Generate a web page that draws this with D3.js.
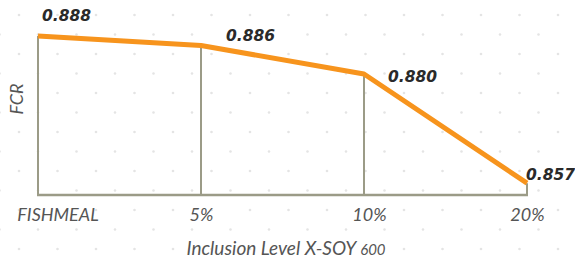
<!DOCTYPE html>
<html>
<head>
<meta charset="utf-8">
<script src="https://cdn.jsdelivr.net/npm/d3@7"></script>
<style>
  body { margin: 0; background: #fff; }
  svg { display: block; }
</style>
</head>
<body>
<div id="canvas"></div>
<script>
const categories = ["FISHMEAL", "5%", "10%", "20%"];
const fcr = [0.888, 0.886, 0.880, 0.857];
const valueLabels = ["0.888", "0.886", "0.880", "0.857"];
const xTitle = "Inclusion Level X-SOY";
const xTitleSuffix = "600";
const yTitle = "FCR";

// label nudges (pixels) relative to each point
const labelOffsets = [[4, -15], [25, -4], [24, 8], [-1, -3]];

const width = 575;
const height = 264;
const margin = {top: 36, left: 38, bottom: 69, right: 48};

const svg = d3.select("#canvas").append("svg")
    .attr("width", width)
    .attr("height", height);

// faint staggered dot background
const dots = svg.append("g");
for (let r = 0; r * 19.5 < height + 20; r++) {
  const off = (r % 2) ? 19 : 0;
  for (let c = -1; c * 38.5 < width + 40; c++) {
    dots.append("circle")
        .attr("cx", c * 38.5 + off + 19)
        .attr("cy", r * 19.5 + 15)
        .attr("r", 1.3)
        .attr("fill", "#e4e4e4");
  }
}

const x = d3.scalePoint().domain(categories).range([margin.left, width - margin.right]);
const y = d3.scaleLinear().domain([0.8545, 0.888]).range([height - margin.bottom, margin.top]);

const data = categories.map((c, i) => ({cat: c, v: fcr[i], label: valueLabels[i], off: labelOffsets[i]}));

const g = svg.append("g");

// drop lines
g.selectAll("line.drop").data(data).enter().append("line")
    .attr("class", "drop")
    .attr("x1", d => x(d.cat)).attr("x2", d => x(d.cat))
    .attr("y1", y(0.8545)).attr("y2", d => y(d.v))
    .attr("stroke", "#9b9b87")
    .attr("stroke-width", 2);

// baseline
g.append("line")
    .attr("x1", x(categories[0]) - 1).attr("x2", x(categories[categories.length - 1]) + 1)
    .attr("y1", y(0.8545)).attr("y2", y(0.8545))
    .attr("stroke", "#9b9b87")
    .attr("stroke-width", 2.5);

// main line
g.append("path")
    .datum(data)
    .attr("fill", "none")
    .attr("stroke", "#f7941d")
    .attr("stroke-width", 5)
    .attr("stroke-linejoin", "round")
    .attr("d", d3.line().x(d => x(d.cat)).y(d => y(d.v)));

// value labels
g.selectAll("text.val").data(data).enter().append("text")
    .attr("class", "val")
    .attr("x", d => x(d.cat) + d.off[0])
    .attr("y", d => y(d.v) + d.off[1])
    .attr("font-family", "DejaVu Sans")
    .attr("font-weight", "bold")
    .attr("font-style", "italic")
    .attr("font-size", 15.5)
    .attr("fill", "#2a2a2a")
    .text(d => d.label);

// x axis tick labels
const xAxis = g.append("g")
    .attr("transform", `translate(0,${y(0.8545)})`)
    .call(d3.axisBottom(x).tickSize(0).tickPadding(13));
xAxis.select(".domain").remove();
xAxis.selectAll("text")
    .attr("font-family", "Lato")
    .attr("font-style", "italic")
    .attr("font-size", 18)
    .attr("fill", "#555")
    .attr("dx", (d, i) => i === 0 ? 19.5 : (i === 2 ? 5 : 0));

// x title
const xt = svg.append("text")
    .attr("x", 286)
    .attr("y", 255)
    .attr("text-anchor", "middle")
    .attr("font-family", "Lato")
    .attr("font-style", "italic")
    .attr("font-size", 19)
    .attr("fill", "#555")
    .text(xTitle + " ");
xt.append("tspan").attr("font-size", 15).text(xTitleSuffix);

// y title
svg.append("text")
    .attr("transform", "translate(23,99) rotate(-90)")
    .attr("text-anchor", "middle")
    .attr("font-family", "Lato")
    .attr("font-style", "italic")
    .attr("font-size", 18)
    .attr("fill", "#555")
    .text(yTitle);
</script>
</body>
</html>
